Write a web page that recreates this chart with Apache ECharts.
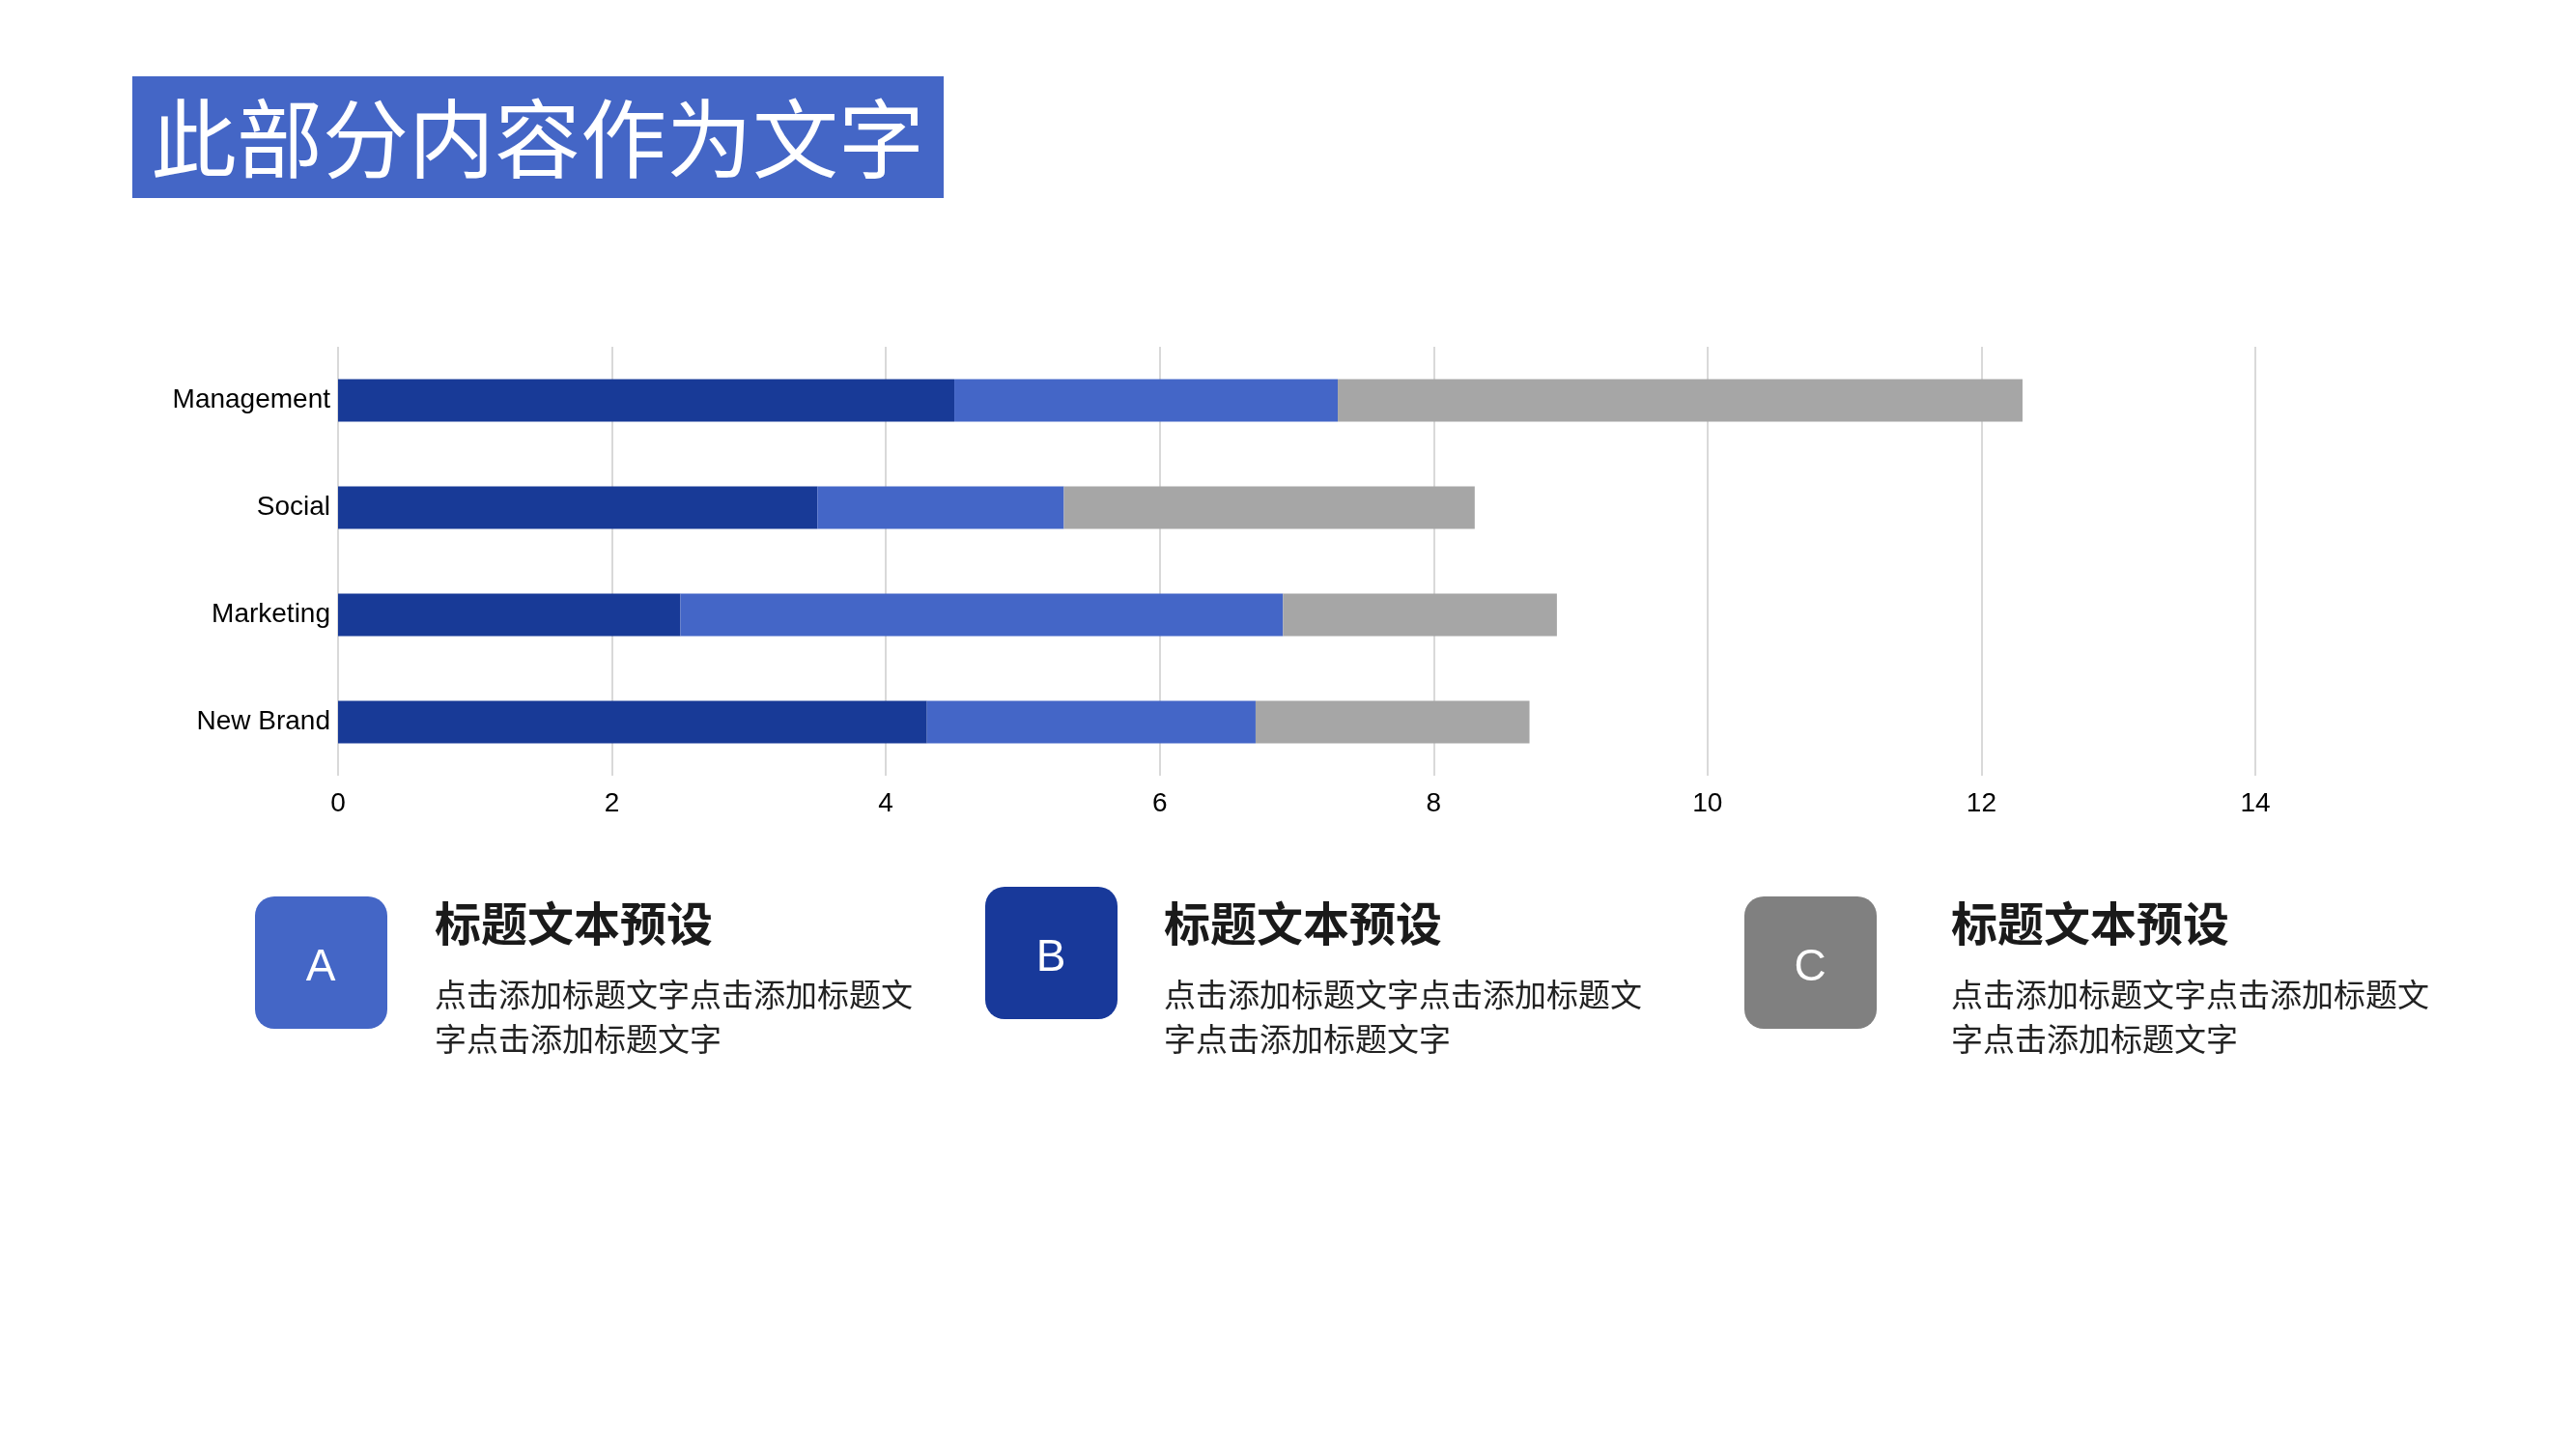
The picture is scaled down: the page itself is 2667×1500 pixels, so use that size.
<!DOCTYPE html>
<html><head><meta charset="utf-8">
<script src="https://cdn.jsdelivr.net/npm/echarts@6/dist/echarts.min.js"></script>
<style>html,body{margin:0;padding:0;background:#fff}#c{width:2667px;height:1500px}</style>
</head><body><div id="c"></div>
<script>
const categories = ['New Brand', 'Marketing', 'Social', 'Management'];
const series1 = [4.3, 2.5, 3.5, 4.5];
const series2 = [2.4, 4.4, 1.8, 2.8];
const series3 = [2.0, 2.0, 3.0, 5.0];
const xTicks = [0, 2, 4, 6, 8, 10, 12, 14];
const titleText = '此部分内容作为文字';
const cardLetters = ['A', 'B', 'C'];
const cardHeading = '标题文本预设';
const cardBody = ['点击添加标题文字点击添加标题文', '字点击添加标题文字'];

const chart = echarts.init(document.getElementById('c'));
const cjk = '"Noto Sans CJK SC", "Noto Sans", sans-serif';
const cards = [
  {x: 264, y: 928, fill: '#4466C6', tx: 450},
  {x: 1020, y: 918, fill: '#18399A', tx: 1205},
  {x: 1806, y: 928, fill: '#808080', tx: 2020}
];
const graphics = [
  {type: 'rect', shape: {x: 137, y: 79, width: 840, height: 126}, style: {fill: '#4466C6'}},
  {type: 'text', style: {x: 156, y: 143, text: titleText, font: '89px ' + cjk, fill: '#fff', textVerticalAlign: 'middle'}}
];
cards.forEach((c, i) => {
  graphics.push({type: 'rect', shape: {x: c.x, y: c.y, width: 137, height: 137, r: 20}, style: {fill: c.fill}});
  graphics.push({type: 'text', style: {x: c.x + 68, y: c.y + 74, text: cardLetters[i], font: '46px "Liberation Sans", Arial, sans-serif', fill: '#fff', textAlign: 'center', textVerticalAlign: 'middle'}});
  graphics.push({type: 'text', style: {x: c.tx, y: 956, text: cardHeading, font: 'bold 48px ' + cjk, fill: '#1a1a1a', textVerticalAlign: 'middle'}});
  cardBody.forEach((t, k) => {
    graphics.push({type: 'text', style: {x: c.tx, y: 1029 + k * 46, text: t, font: '33px ' + cjk, fill: '#222', textVerticalAlign: 'middle'}});
  });
});

chart.setOption({
  animation: false,
  grid: {left: 350, right: 332, top: 359, bottom: 697},
  xAxis: {
    type: 'value', min: xTicks[0], max: xTicks[xTicks.length - 1], interval: 2,
    axisLine: {show: false}, axisTick: {show: false},
    splitLine: {lineStyle: {color: '#d9d9d9', width: 2}},
    axisLabel: {color: '#000', fontSize: 28, margin: 15, fontFamily: '"Liberation Sans", Arial, sans-serif'}
  },
  yAxis: {
    type: 'category', data: categories,
    axisLine: {show: false}, axisTick: {show: false},
    axisLabel: {color: '#000', fontSize: 28, margin: 8, fontFamily: '"Liberation Sans", Arial, sans-serif'}
  },
  series: [
    {type: 'bar', stack: 's', data: series1, barWidth: 44, itemStyle: {color: '#183A97'}},
    {type: 'bar', stack: 's', data: series2, barWidth: 44, itemStyle: {color: '#4466C7'}},
    {type: 'bar', stack: 's', data: series3, barWidth: 44, itemStyle: {color: '#A6A6A6'}}
  ],
  graphic: graphics
});
</script></body></html>
